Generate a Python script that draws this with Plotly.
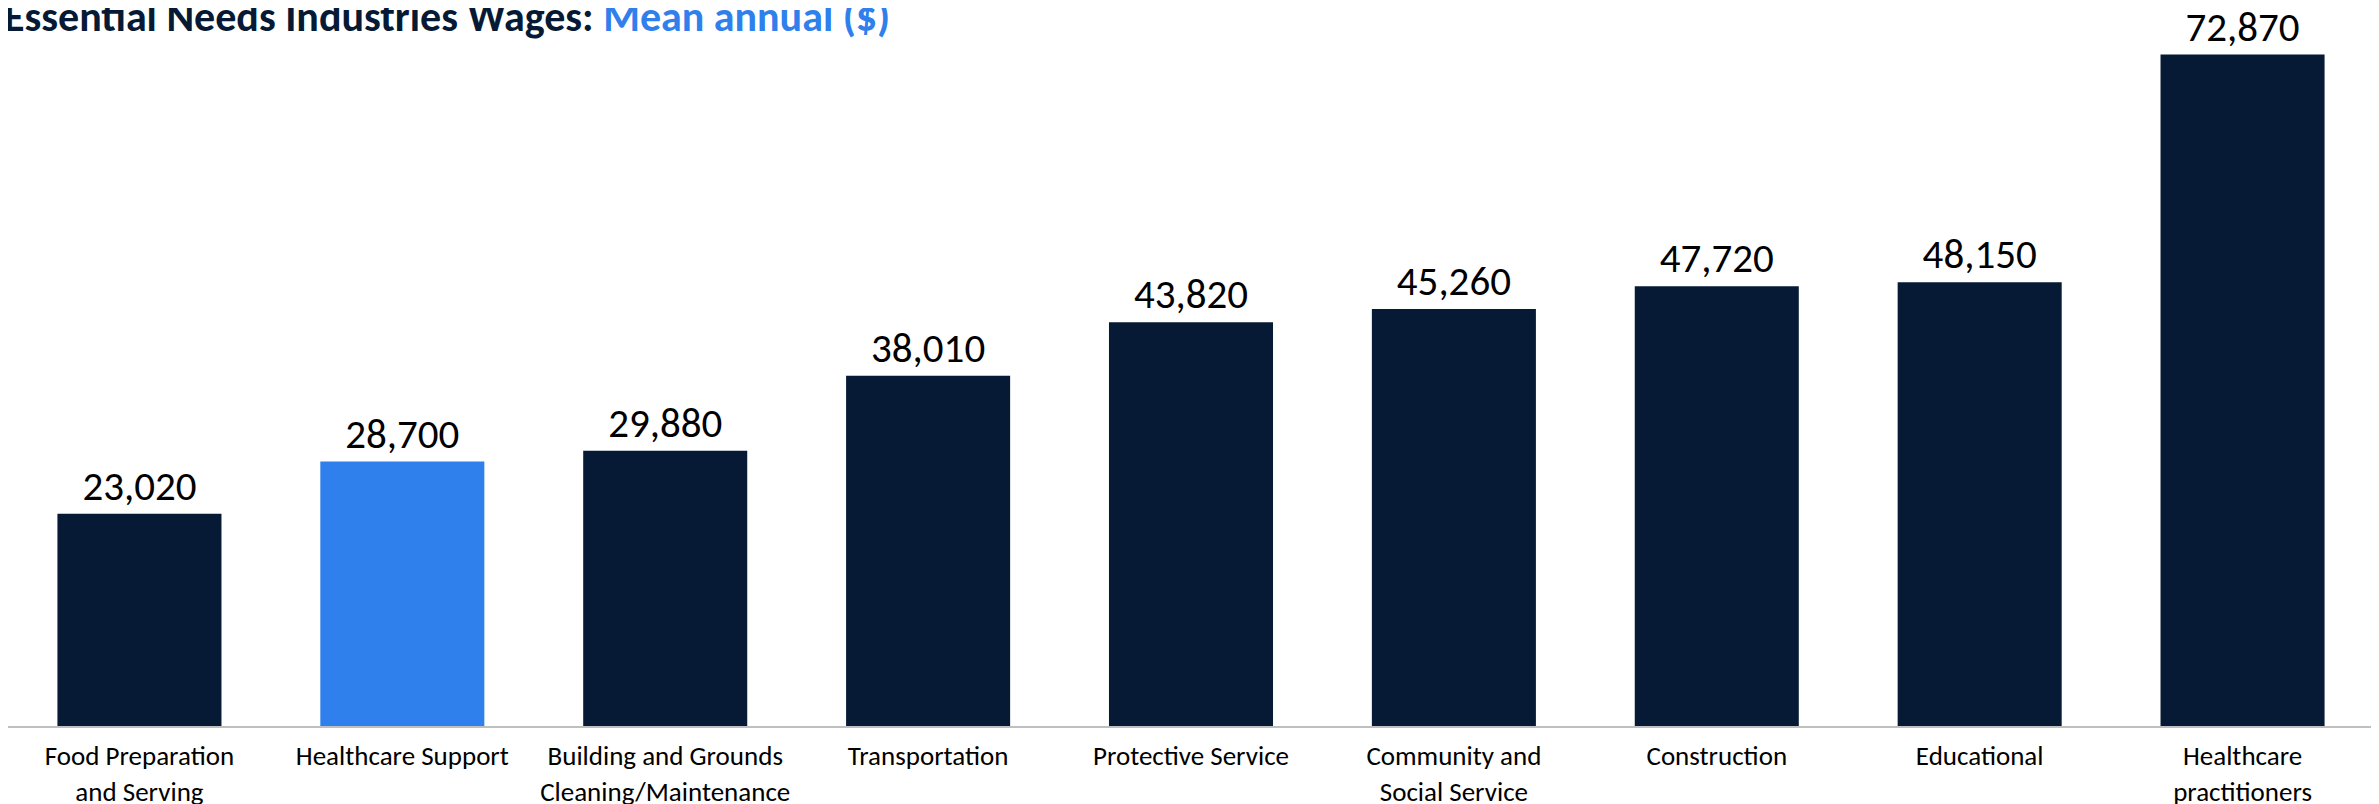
import plotly.graph_objects as go

categories = [
    "Food Preparation<br>and Serving",
    "Healthcare Support",
    "Building and Grounds<br>Cleaning/Maintenance",
    "Transportation",
    "Protective Service",
    "Community and<br>Social Service",
    "Construction",
    "Educational",
    "Healthcare<br>practitioners",
]
wages = [23020, 28700, 29880, 38010, 43820, 45260, 47720, 48150, 72870]
highlight = "Healthcare Support"

NAVY = "#061A35"
BLUE = "#2F80ED"
FONT = "Carlito, Calibri, Lato, 'Open Sans', sans-serif"

colors = [BLUE if c == highlight else NAVY for c in categories]

fig = go.Figure(
    go.Bar(
        x=categories,
        y=wages,
        marker=dict(color=colors, line=dict(width=0)),
        text=[f"{v:,}" for v in wages],
        textposition="outside",
        textfont=dict(family=FONT, size=41, color="#000000"),
        cliponaxis=False,
        hoverinfo="skip",
    )
)

fig.update_layout(
    width=2379,
    height=804,
    margin=dict(l=0, r=13, t=2, b=86),
    paper_bgcolor="white",
    plot_bgcolor="white",
    bargap=0.376,
    showlegend=False,
    font=dict(family=FONT),
    xaxis=dict(
        showline=True,
        linecolor="#BFBFBF",
        linewidth=2,
        ticks="",
        ticklabelstandoff=5,
        showgrid=False,
        tickfont=dict(family=FONT, size=27, color="#000000"),
        fixedrange=True,
    ),
    yaxis=dict(
        range=[0, 77700],
        visible=False,
        showgrid=False,
        zeroline=False,
        fixedrange=True,
    ),
    annotations=[
        dict(
            xref="paper",
            yref="paper",
            x=0,
            y=1,
            xanchor="left",
            yanchor="bottom",
            xshift=-6,
            yshift=-34,
            showarrow=False,
            text="<b><span style='color:#061A35'>Essential Needs Industries Wages: </span>"
                 "<span style='color:#2F80ED'>Mean annual ($)</span></b>",
            font=dict(family=FONT, size=42, color=NAVY),
        )
    ],
)

fig.write_html("out.html")
